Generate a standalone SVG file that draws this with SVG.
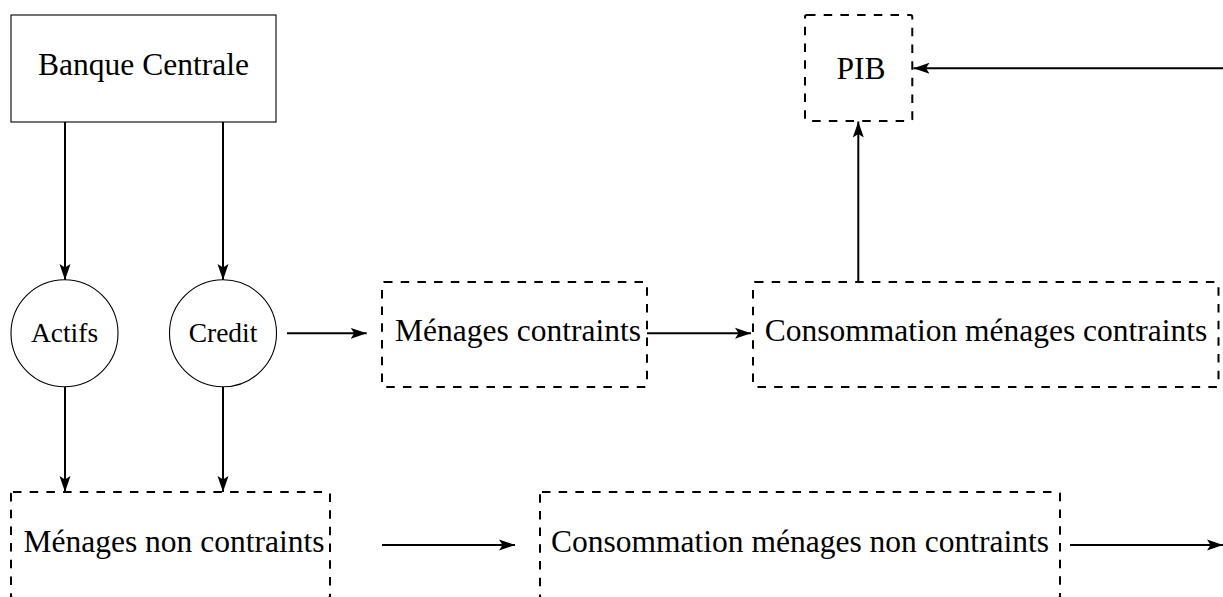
<svg xmlns="http://www.w3.org/2000/svg" width="1223" height="597" viewBox="0 0 1223 597">
<style>
text{font-family:"Liberation Serif","Times New Roman",serif;fill:#000;text-anchor:middle}
.big{font-size:31.5px}
.small{font-size:27.5px}
.solid{fill:#fff;stroke:#000;stroke-width:1.1}
.dash{fill:none;stroke:#000;stroke-width:2;stroke-dasharray:8.5 8.2}
.circ{fill:#fff;stroke:#000;stroke-width:1.1}
.edge{fill:none;stroke:#000;stroke-width:2;marker-end:url(#ah)}
</style>
<defs>
<marker id="ah" markerUnits="userSpaceOnUse" markerWidth="18" markerHeight="12" refX="16" refY="5.5" orient="auto" viewBox="0 0 18 11">
<path d="M16,5.5 L0,0 L3.5,5.5 L0,11 Z" fill="#000"/>
</marker>
</defs>
<rect width="1223" height="597" fill="#fff"/>
<g id="connectors">
<line class="edge" x1="65" y1="122" x2="65" y2="280"/>
<line class="edge" x1="223" y1="122" x2="223" y2="280"/>
<line class="edge" x1="65" y1="387" x2="65" y2="492"/>
<line class="edge" x1="223" y1="387" x2="223" y2="492"/>
<line class="edge" x1="287" y1="333.3" x2="366.7" y2="333.3"/>
<line class="edge" x1="647" y1="333.3" x2="751" y2="333.3"/>
<line class="edge" x1="858.3" y1="281" x2="858.3" y2="121.5"/>
<line class="edge" x1="1223" y1="68.3" x2="913.5" y2="68.3"/>
<line class="edge" x1="382" y1="545" x2="515" y2="545"/>
<line class="edge" x1="1070" y1="545" x2="1223" y2="545"/>
</g>
<g id="banque-centrale">
<rect class="solid" x="11" y="15" width="265" height="107"/>
<text class="big" x="143.5" y="75">Banque Centrale</text>
</g>
<g id="actifs">
<circle class="circ" cx="64.5" cy="333.3" r="53.5"/>
<text class="small" x="64.5" y="342">Actifs</text>
</g>
<g id="credit">
<circle class="circ" cx="223" cy="333.3" r="53.5"/>
<text class="small" x="223" y="342">Credit</text>
</g>
<g id="menages-contraints">
<rect class="dash" x="382" y="282" width="265" height="105" rx="2"/>
<text class="big" x="518" y="341">Ménages contraints</text>
</g>
<g id="conso-menages-contraints">
<rect class="dash" x="753" y="282" width="465.5" height="105" rx="2"/>
<text class="big" x="986" y="341">Consommation ménages contraints</text>
</g>
<g id="pib">
<rect class="dash" x="805" y="15" width="107.3" height="106" rx="2"/>
<text class="big" x="861" y="79">PIB</text>
</g>
<g id="menages-non-contraints">
<rect class="dash" x="11" y="492" width="319" height="106" rx="2"/>
<text class="big" x="174" y="552">Ménages non contraints</text>
</g>
<g id="conso-menages-non-contraints">
<rect class="dash" x="540" y="492" width="520" height="106" rx="2"/>
<text class="big" x="800" y="552">Consommation ménages non contraints</text>
</g>
</svg>
